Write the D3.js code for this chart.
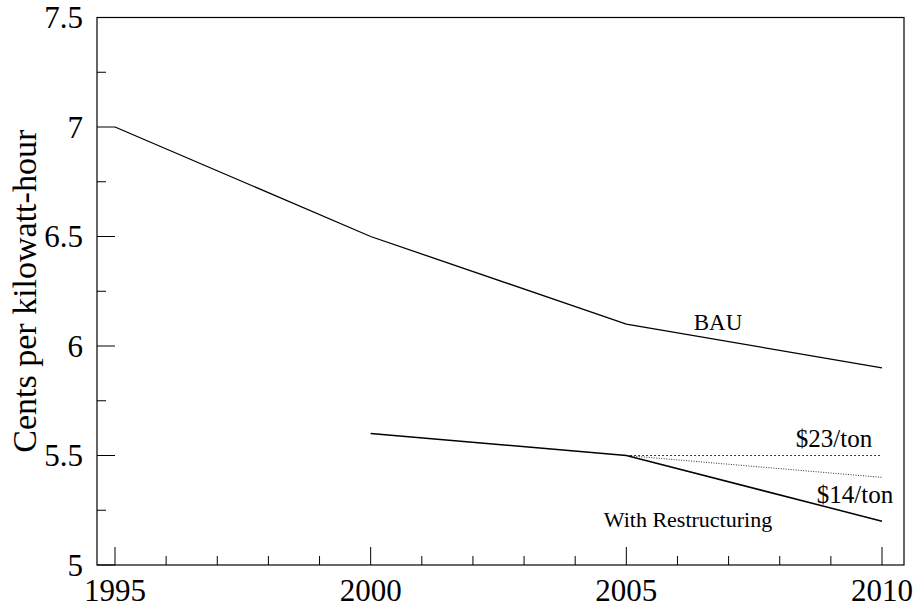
<!DOCTYPE html>
<html><head><meta charset="utf-8">
<script src="https://cdn.jsdelivr.net/npm/d3@7"></script>
<style>body{margin:0;background:#fff;}svg{display:block;font-family:"Liberation Serif","Times New Roman",serif;}</style>
</head><body>
<script>
const bauYears = [1995, 2000, 2005, 2010];
const bauValues = [7.0, 6.5, 6.1, 5.9];
const restructYears = [2000, 2005, 2010];
const restructValues = [5.6, 5.5, 5.2];
const tax23Years = [2005, 2010];
const tax23Values = [5.5, 5.5];
const tax14Years = [2005, 2010];
const tax14Values = [5.5, 5.4];
const xTickLabels = [1995, 2000, 2005, 2010];
const yTickLabels = [5, 5.5, 6, 6.5, 7, 7.5];

const W = 919, H = 610;
const svg = d3.select("body").append("svg").attr("width", W).attr("height", H);
const L = 97, R = 904, T = 17.5, B = 565;
const x = d3.scaleLinear().domain([1995, 2010]).range([115, 882]);
const y = d3.scaleLinear().domain([5, 7.5]).range([B, T]);

// frame
svg.append("rect").attr("x", L).attr("y", T).attr("width", R - L).attr("height", B - T)
  .attr("fill", "none").attr("stroke", "#000").attr("stroke-width", 1.2);

// x ticks (inward)
const xMinor = d3.range(1995, 2011, 1);
svg.append("g").selectAll("line").data(xMinor).join("line")
  .attr("x1", d => x(d)).attr("x2", d => x(d))
  .attr("y1", B).attr("y2", d => B - (d % 5 === 0 ? 18 : 9))
  .attr("stroke", "#000").attr("stroke-width", 1);
svg.append("g").selectAll("text").data(xTickLabels).join("text")
  .attr("x", d => x(d)).attr("y", 601).attr("text-anchor", "middle")
  .attr("font-size", 31).text(d => d);

// y ticks
const yMinor = d3.range(0, 11).map(i => 5 + i * 0.25);
svg.append("g").selectAll("line").data(yMinor).join("line")
  .attr("x1", L).attr("x2", d => L + (Math.abs(d * 2 - Math.round(d * 2)) < 1e-6 ? 18 : 9))
  .attr("y1", d => y(d)).attr("y2", d => y(d))
  .attr("stroke", "#000").attr("stroke-width", 1);
svg.append("g").selectAll("text").data(yTickLabels).join("text")
  .attr("x", 83).attr("y", d => y(d)).attr("dy", "0.35em").attr("text-anchor", "end")
  .attr("font-size", 31).text(d => d);

svg.append("text").attr("transform", `translate(36,${(T + B) / 2}) rotate(-90)`)
  .attr("text-anchor", "middle").attr("font-size", 34).text("Cents per kilowatt-hour");

const line = d3.line().x(d => x(d[0])).y(d => y(d[1]));
function draw(years, vals, opts) {
  svg.append("path").datum(years.map((yr, i) => [yr, vals[i]]))
    .attr("d", line).attr("fill", "none").attr("stroke", "#000")
    .attr("stroke-width", opts.w).attr("stroke-dasharray", opts.dash || null);
}
draw(bauYears, bauValues, {w: 1.3});
draw(tax23Years, tax23Values, {w: 1, dash: "1.5,2.5"});
draw(tax14Years, tax14Values, {w: 0.8, dash: "1,1.5"});
draw(restructYears, restructValues, {w: 1.5});

svg.append("text").attr("x", 718).attr("y", 330).attr("text-anchor", "middle").attr("font-size", 23).text("BAU");
svg.append("text").attr("x", 834).attr("y", 447).attr("text-anchor", "middle").attr("font-size", 25).text("$23/ton");
svg.append("text").attr("x", 855).attr("y", 503).attr("text-anchor", "middle").attr("font-size", 25).text("$14/ton");
svg.append("text").attr("x", 688).attr("y", 527).attr("text-anchor", "middle").attr("font-size", 22).text("With Restructuring");
</script>
</body></html>
